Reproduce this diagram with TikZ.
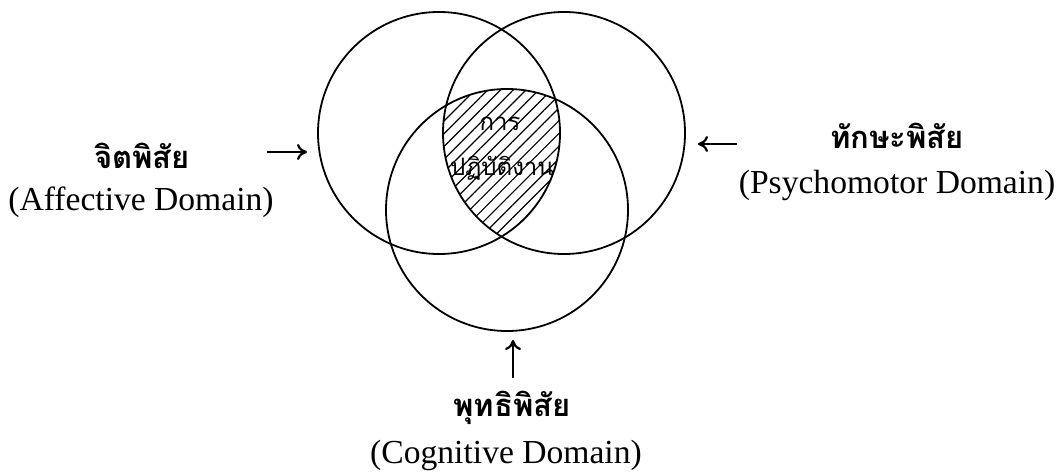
\documentclass[tikz,border=0pt]{standalone}
\usepackage{fontspec}
\setmainfont{Liberation Serif}
\newfontfamily\thaifont[Script=Thai]{Loma}
\usetikzlibrary{patterns.meta,arrows.meta}

\tikzset{
  domcircle/.style={draw, circle, minimum size=121pt, inner sep=0pt},
  thlabel/.style={font=\thaifont\bfseries\fontsize{15.5}{18}\selectfont},
  enlabel/.style={font=\fontsize{16.8}{20}\selectfont},
  worklabel/.style={font=\thaifont\fontsize{12}{14}\selectfont},
  hatch/.style={pattern={Lines[angle=45,distance=4.5pt,line width=0.6pt]}},
  pointer/.style={-{To[length=5pt,width=8pt]}, line width=1.1pt},
}

\begin{document}
\begin{tikzpicture}[x=0.5pt, y=-0.5pt, line width=0.9pt]
    \useasboundingbox (0,0) rectangle (1059,476);
    % centres of the three domains
    \coordinate (A) at (439,133);
    \coordinate (P) at (564,133);
    \coordinate (C) at (507,210);

% part shared by all three
\begin{scope}
    \clip (A) circle (60.5pt);
    \clip (P) circle (60.5pt);
    \fill[hatch] (C) circle (60.5pt);
\end{scope}

    \node[domcircle] (aff) at (A) {};
    \node[domcircle] (psy) at (P) {};
    \node[domcircle] (cog) at (C) {};

    \node[worklabel] (work1) at (500,124) {การ};
    \node[worklabel] (work2) at (502,168) {ปฏิบัติงาน};

%labels
    \node[thlabel] (affth) at (142,156) {จิตพิสัย};
    \node[enlabel] (affen) at (141,202) {(Affective Domain)};
    \node[thlabel] (psyth) at (897,136) {ทักษะพิสัย};
    \node[enlabel] (psyen) at (897,185) {(Psychomotor Domain)};
    \node[thlabel] (cogth) at (512,408) {พุทธิพิสัย};
    \node[enlabel] (cogen) at (506,455) {(Cognitive Domain)};

%arrows
    \coordinate (affa) at (267,152);
    \coordinate (affb) at (307,152);
    \coordinate (psya) at (737,144);
    \coordinate (psyb) at (698,144);
    \coordinate (coga) at (513,378);
    \coordinate (cogb) at (513,340);
    \draw[pointer] (affa) -- (affb);
    \draw[pointer] (psya) -- (psyb);
    \draw[pointer] (coga) -- (cogb);
\end{tikzpicture}
\end{document}
